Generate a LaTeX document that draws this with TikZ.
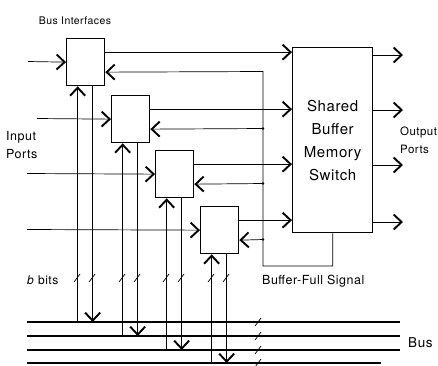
\documentclass[tikz,border=0pt]{standalone}
\usepackage{fontspec}
\setmainfont{TeX Gyre Heros}[LetterSpace=4]
\usetikzlibrary{arrows.meta}
\begin{document}
\begin{tikzpicture}[x=1pt,y=-1pt,
  ib/.style={draw,line width=1.3pt,minimum width=38pt,minimum height=47pt,inner sep=0pt,anchor=north west},
  wire/.style={line width=0.7pt},
  arr/.style={wire,-{Straight Barb[length=8pt,width=15pt,line width=1.9pt]}},
  busl/.style={line width=1.8pt},
  lbl/.style={inner sep=0pt,align=left,anchor=west},
  jdot/.style={circle,fill,inner sep=0pt,minimum size=2.6pt}]
\useasboundingbox (0,0) rectangle (438,365);

% interface boxes and switch
\node[ib] (b1) at (66,38) {};
\node[ib] (b2) at (111,95) {};
\node[ib] (b3) at (155,150) {};
\node[ib] (b4) at (200,206) {};
\node[draw,line width=1.3pt,minimum width=80pt,minimum height=185pt,inner sep=0pt,
      anchor=north west,align=center,font=\fontsize{15}{23}\selectfont] (sw) at (292,47)
      {Shared\\Buffer\\Memory\\Switch};

% input ports
\coordinate (in1) at (28,61.5);
\coordinate (in2) at (37,118.5);
\coordinate (in3) at (27,173.5);
\coordinate (in4) at (27,229.5);
\draw[arr] (in1) -- (b1.west);
\draw[arr] (in2) -- (b2.west);
\draw[arr] (in3) -- (b3.west);
\draw[arr] (in4) -- (b4.west);

% box outputs into switch
\foreach \b in {b1,b2,b3,b4}{
  \draw[arr] ([yshift=10pt]\b.east) -- ([yshift=10pt]\b.east -| sw.west);
}

% switch outputs
\coordinate (o1) at (403,55);
\coordinate (o2) at (403,110);
\coordinate (o3) at (403,165);
\coordinate (o4) at (403,222);
\foreach \o in {o1,o2,o3,o4}{
  \draw[arr] (\o -| sw.east) -- (\o);
}

% buffer-full feedback
\coordinate (fbtop) at (263,71.5);
\coordinate (fbbot) at (263,266);
\coordinate (j2) at (263,128.5);
\coordinate (j3) at (263,183.5);
\coordinate (j4) at (263,239.5);
\draw[arr] (sw.south) |- (fbbot) -- (fbtop) -- ([yshift=-10pt]b1.east);
\draw[arr] (j2) -- ([yshift=-10pt]b2.east);
\draw[arr] (j3) -- ([yshift=-10pt]b3.east);
\draw[arr] (j4) -- ([yshift=-10pt]b4.east);
\node[jdot] (d2) at (j2) {};
\node[jdot] (d3) at (j3) {};
\node[jdot] (d4) at (j4) {};

% bus lines
\coordinate (B1s) at (27,322);  \coordinate (B1e) at (400,322);
\coordinate (B2s) at (27,336);  \coordinate (B2e) at (400,336);
\coordinate (B3s) at (27,350);  \coordinate (B3e) at (400,350);
\coordinate (B4s) at (27,363);  \coordinate (B4e) at (381,363);
\draw[busl] (B1s) -- (B1e);
\draw[busl] (B2s) -- (B2e);
\draw[busl] (B3s) -- (B3e);
\draw[busl] (B4s) -- (B4e);

% box <-> bus connections
\foreach \b/\l in {b1/B1s,b2/B2s,b3/B3s,b4/B4s}{
  \draw[arr] ([xshift=-8pt]\b.south |- \l) -- ([xshift=-8pt]\b.south);
  \draw[arr] ([xshift=7pt]\b.south) -- ([xshift=7pt]\b.south |- \l);
}

% b-bit slash marks
\foreach \x in {77,92,122,137,166,181,211,226}{
  \draw[wire] (\x-3,282) -- (\x+3,274);
}
\foreach \y in {322,336,350,363}{
  \draw[wire] (255,\y+4) -- (261,\y-4);
}

% labels
\node[inner sep=0pt,font=\fontsize{10.5}{12}\selectfont] (tBI) at (75,21) {Bus Interfaces};
\node[lbl,font=\fontsize{12.5}{18}\selectfont] (tIP) at (6,145) {Input\\Ports};
\node[lbl,font=\fontsize{11.5}{18}\selectfont] (tOP) at (400,140) {Output\\Ports};
\node[lbl,font=\fontsize{12}{14}\selectfont] (tb) at (27,280) {\textit{b} bits};
\node[lbl,font=\fontsize{12.5}{14}\selectfont] (tBF) at (262,281) {Buffer-Full Signal};
\node[lbl,font=\fontsize{13.5}{14}\selectfont] (tBus) at (408,343) {Bus};
\end{tikzpicture}
\end{document}
